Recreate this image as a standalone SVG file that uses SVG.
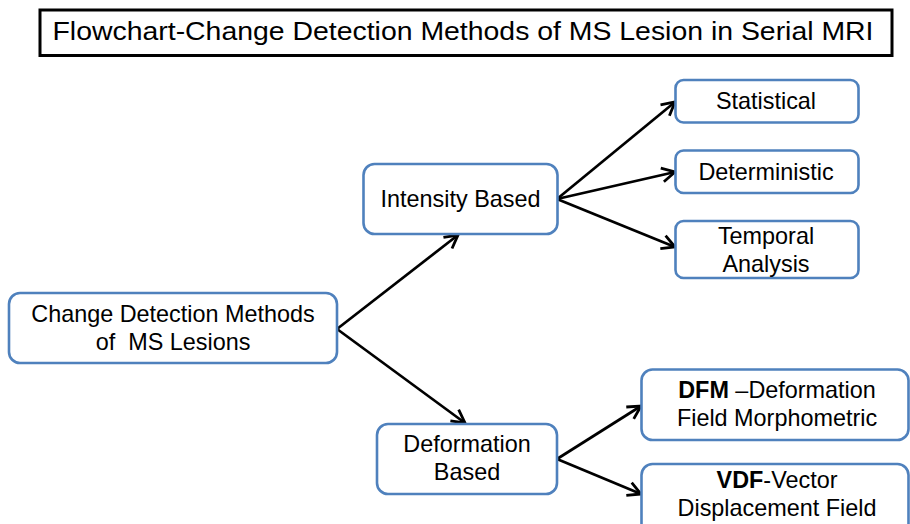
<svg xmlns="http://www.w3.org/2000/svg" width="910" height="524" viewBox="0 0 910 524">
  <defs>
    <marker id="arr" markerUnits="userSpaceOnUse" markerWidth="18" markerHeight="18" viewBox="0 0 18 18" refX="16" refY="9" orient="auto">
      <path d="M3,2 L16,9 L3,16" fill="none" stroke="#000" stroke-width="2.8" stroke-linejoin="miter"/>
    </marker>
    <style>
      .box { fill: #fff; stroke: #4F81BD; stroke-width: 2.6; }
      .t { font-family: "Liberation Sans", Arial, sans-serif; font-size: 23.4px; fill: #000; text-anchor: middle; }
      .b { font-weight: bold; }
      .c { fill: none; stroke: #000; stroke-width: 2.7; marker-end: url(#arr); }
    </style>
  </defs>
  <rect width="910" height="524" fill="#fff"/>

  <g id="title">
    <rect x="40" y="10" width="852" height="45.5" fill="#fff" stroke="#000" stroke-width="3"/>
    <text x="463" y="39.5" font-family="Liberation Sans, Arial, sans-serif" font-size="26" fill="#000" text-anchor="middle" textLength="821" lengthAdjust="spacingAndGlyphs">Flowchart-Change Detection Methods of MS Lesion in Serial MRI</text>
  </g>

  <g id="connectors">
    <line class="c" x1="337" y1="329" x2="458" y2="235"/>
    <line class="c" x1="337" y1="329" x2="465" y2="423"/>
    <line class="c" x1="557" y1="199" x2="675" y2="102"/>
    <line class="c" x1="557" y1="199" x2="675" y2="172"/>
    <line class="c" x1="557" y1="199" x2="675" y2="247"/>
    <line class="c" x1="557" y1="459" x2="641" y2="406"/>
    <line class="c" x1="557" y1="459" x2="641" y2="494"/>
  </g>

  <g id="change">
    <rect class="box" x="9" y="293" width="328" height="70" rx="11"/>
    <text class="t" x="173" y="322">Change Detection Methods</text>
    <text class="t" x="173" y="349.5" xml:space="preserve">of  MS Lesions</text>
  </g>

  <g id="intensity">
    <rect class="box" x="363.5" y="164" width="194" height="70" rx="11"/>
    <text class="t" x="460.5" y="207">Intensity Based</text>
  </g>

  <g id="deformation">
    <rect class="box" x="377" y="424" width="180" height="70" rx="11"/>
    <text class="t" x="467" y="452">Deformation</text>
    <text class="t" x="467" y="480">Based</text>
  </g>

  <g id="statistical">
    <rect class="box" x="675.5" y="80" width="183" height="42.5" rx="8"/>
    <text class="t" x="766" y="109">Statistical</text>
  </g>

  <g id="deterministic">
    <rect class="box" x="675.5" y="150.5" width="183" height="42.5" rx="8"/>
    <text class="t" x="766" y="180">Deterministic</text>
  </g>

  <g id="temporal">
    <rect class="box" x="675.5" y="221" width="183" height="57" rx="8"/>
    <text class="t" x="766" y="244">Temporal</text>
    <text class="t" x="766" y="272">Analysis</text>
  </g>

  <g id="dfm">
    <rect class="box" x="641.5" y="369.5" width="267" height="70.5" rx="11"/>
    <text class="t" x="777" y="397.5"><tspan class="b">DFM</tspan> –Deformation</text>
    <text class="t" x="777" y="425.5">Field Morphometric</text>
  </g>

  <g id="vdf">
    <rect class="box" x="641.5" y="464" width="267" height="75" rx="11"/>
    <text class="t" x="777" y="488"><tspan class="b">VDF</tspan>-Vector</text>
    <text class="t" x="777" y="516">Displacement Field</text>
  </g>
</svg>
